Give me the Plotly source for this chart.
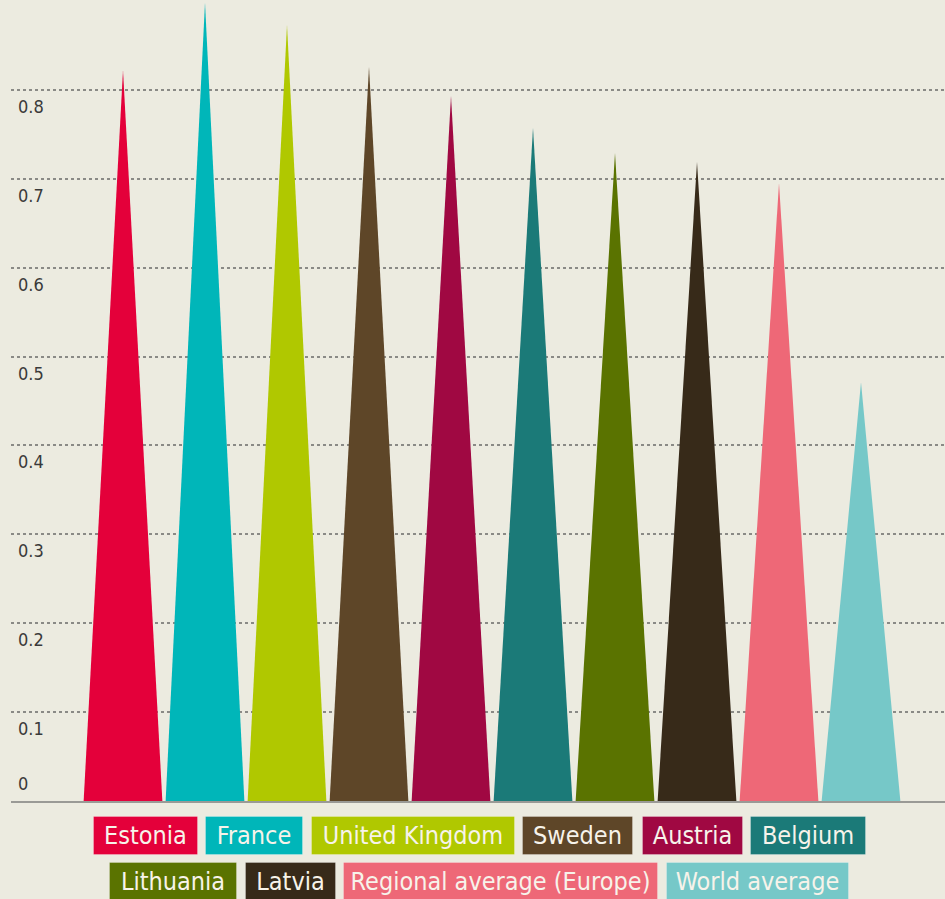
import plotly.graph_objects as go

# ---- data ----
countries = ["Estonia", "France", "United Kingdom", "Sweden", "Austria",
             "Belgium", "Lithuania", "Latvia", "Regional average (Europe)", "World average"]
values = [0.822, 0.898, 0.873, 0.826, 0.793, 0.757, 0.729, 0.719, 0.695, 0.471]
tick_values = [0, 0.1, 0.2, 0.3, 0.4, 0.5, 0.6, 0.7, 0.8]
tick_labels = ["0", "0.1", "0.2", "0.3", "0.4", "0.5", "0.6", "0.7", "0.8"]

# ---- styles ----
colors = ["#E4003A", "#00B6B9", "#B0C800", "#5E4628", "#A00842",
          "#1B7A78", "#5A7300", "#372A19", "#EE6877", "#76C8C8"]
BG = "#ECEBE0"
FONT = "Liberation Sans Narrow, DejaVu Sans Condensed, sans-serif"
W, H = 945, 899
ML, MB = 11, 98
half_width = 0.48

# legend box layout (pixel left, right, row)
legend_boxes = [(93, 198, 0), (205, 303, 0), (311, 515, 0), (522, 633, 0), (642, 743, 0),
                (750, 866, 0), (109, 237, 1), (245, 336, 1), (343, 658, 1), (666, 849, 1)]
row_centers = [835, 881]
box_h = 39

fig = go.Figure()
for i, (name, v, c) in enumerate(zip(countries, values, colors)):
    fig.add_trace(go.Scatter(
        x=[i - half_width, i, i + half_width, i - half_width],
        y=[0, v, 0, 0],
        mode="lines", fill="toself", fillcolor=c,
        line=dict(width=0, color=c), name=name, hoverinfo="name+text",
        text=[f"{v:.3f}"] * 4, showlegend=False,
    ))

plot_w = W - ML
plot_h = H - MB
annotations = []
# y tick labels
for tv, tl in zip(tick_values, tick_labels):
    if tv == 0:
        annotations.append(dict(x=5 / plot_w, xref="paper", y=tv, yref="y", text=tl,
                                showarrow=False, xanchor="left", yanchor="bottom", yshift=5,
                                font=dict(family=FONT, size=18, color="#3a3a3a")))
    else:
        annotations.append(dict(x=5 / plot_w, xref="paper", y=tv, yref="y", text=tl,
                                showarrow=False, xanchor="left", yanchor="top", yshift=-4,
                                font=dict(family=FONT, size=18, color="#3a3a3a")))
# legend boxes
for name, c, (l, r, row) in zip(countries, colors, legend_boxes):
    cx = ((l + r) / 2 - ML) / plot_w
    cy = (plot_h - row_centers[row]) / plot_h
    annotations.append(dict(x=cx, xref="paper", y=cy, yref="paper", text=name,
                            showarrow=False, xanchor="center", yanchor="middle",
                            width=r - l - 2, height=box_h - 2, bgcolor=c, borderpad=0,
                            bordercolor="rgba(255,255,255,0.25)", borderwidth=1,
                            font=dict(family=FONT, size=25, color="#F7F3EA")))

fig.update_layout(
    width=W, height=H, paper_bgcolor=BG, plot_bgcolor=BG,
    margin=dict(l=ML, r=0, t=0, b=MB),
    xaxis=dict(range=[-112 / 82, -112 / 82 + plot_w / 82], showgrid=False, zeroline=False,
               showticklabels=False, showline=True, linecolor="#9a9a96", linewidth=2,
               fixedrange=True),
    yaxis=dict(range=[0, plot_h / 889], tickvals=tick_values[1:], showticklabels=False,
               showgrid=True, gridcolor="#8a8a86", griddash="dot", gridwidth=1.5,
               zeroline=False, showline=False, fixedrange=True),
    annotations=annotations,
    showlegend=False,
)

fig.write_html("out.html", config={"displayModeBar": False},
               post_script="document.body.style.margin='0';document.body.style.background='%s';" % BG)
